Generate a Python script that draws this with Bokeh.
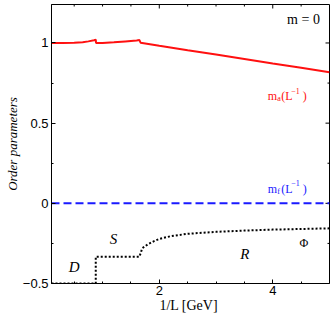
from bokeh.plotting import figure
from bokeh.models import LinearAxis, FixedTicker, Range1d
from bokeh.core.properties import value
from bokeh.embed import file_html
from bokeh.resources import INLINE

# ---- data ----
ma_x = [0.1, 0.3, 0.5, 0.65, 0.75, 0.85, 0.88, 0.885, 1.0, 1.2, 1.4, 1.6, 1.65, 1.67,
        2.0, 2.5, 3.0, 3.5, 4.0, 4.5, 5.0]
ma_y = [1.0, 1.0, 1.001, 1.005, 1.01, 1.017, 1.021, 1.0, 1.0, 1.004, 1.01, 1.016, 1.018, 1.002,
        0.983, 0.955, 0.928, 0.900, 0.872, 0.845, 0.817]

mf_x = [0.1, 5.0]
mf_y = [0.0, 0.0]

phi_x = [0.1, 0.88, 0.88, 1.65, 1.7, 1.8, 1.9, 2.0, 2.2, 2.5, 3.0, 3.5, 4.0, 4.5, 5.0]
phi_y = [-0.5, -0.5, -0.333, -0.333, -0.28, -0.255, -0.237, -0.222, -0.205, -0.19,
         -0.178, -0.17, -0.164, -0.16, -0.156]

x_major = [2, 4]
x_minor = [0.5, 1, 1.5, 2.5, 3, 3.5, 4.5]
y_major = [-0.5, 0, 0.5, 1]
y_minor = [-0.25, 0.25, 0.75]
y_labels = {-0.5: "\u22120.5", 0: "0", 0.5: "0.5", 1: "1"}

SERIF = "Liberation Serif"
SANS = "Liberation Sans"
X0, X1 = 0.1, 5.0
Y0, Y1 = -0.5, 1.24
W, H = 330, 315
ML, MR, MT = 51, 1, 4

p = figure(width=W, height=H, output_backend="svg", toolbar_location=None,
           x_range=Range1d(X0, X1), y_range=Range1d(Y0, Y1),
           x_axis_type=None, y_axis_type=None,
           min_border_left=ML, min_border_right=MR, min_border_top=MT, min_border_bottom=30)
p.xgrid.grid_line_color = None
p.ygrid.grid_line_color = None
p.outline_line_color = "#000000"
p.outline_line_width = 1
p.background_fill_color = "white"
p.border_fill_color = "white"

xt = FixedTicker(ticks=x_major, minor_ticks=x_minor)
yt = FixedTicker(ticks=y_major, minor_ticks=y_minor)

def style(ax):
    ax.axis_line_color = "#000000"
    ax.axis_line_width = 1
    ax.major_tick_in = 4
    ax.major_tick_out = 0
    ax.minor_tick_in = 2
    ax.minor_tick_out = 0
    ax.major_tick_line_color = "#000000"
    ax.minor_tick_line_color = "#000000"
    ax.major_label_text_font = SANS
    ax.major_label_text_font_size = "13px"
    ax.major_label_text_color = "#000000"
    ax.axis_label_text_color = "#000000"

xb = LinearAxis(ticker=xt, axis_label="1/L  [GeV]")
style(xb)
xb.major_label_standoff = 2
xb.axis_label_text_font = SERIF
xb.axis_label_text_font_style = "normal"
xb.axis_label_text_font_size = "14px"
xb.axis_label_standoff = 0
p.add_layout(xb, "below")

yl = LinearAxis(ticker=yt, axis_label="Order parameters", major_label_overrides=y_labels)
style(yl)
yl.major_label_standoff = 3
yl.axis_label_text_font = SERIF
yl.axis_label_text_font_style = "italic"
yl.axis_label_text_font_size = "13px"
yl.axis_label_standoff = 0
p.add_layout(yl, "left")

# ---- frame geometry helpers ----
fw = W - ML - MR
fh = 278.0
ux = (X1 - X0) / fw   # data units per pixel, x
uy = (Y1 - Y0) / fh   # data units per pixel, y

# ---- ticks on the top and right frame edges (derived from the tick lists) ----
tx = x_major + x_minor
tl = [4] * len(x_major) + [2] * len(x_minor)
p.segment(x0=tx, y0=[Y1] * len(tx), x1=tx, y1=[Y1 - l * uy for l in tl],
          line_color="#000000", line_width=1)
ty = y_major + y_minor
tly = [4] * len(y_major) + [2] * len(y_minor)
p.segment(x0=[X1] * len(ty), y0=ty, x1=[X1 - l * ux for l in tly], y1=ty,
          line_color="#000000", line_width=1)

# ---- curves ----
p.line(ma_x, ma_y, line_color="#ff1010", line_width=2)
p.line(mf_x, mf_y, line_color="#1a1aff", line_width=2, line_dash="8 4")
p.line(phi_x, phi_y, line_color="#000000", line_width=2, line_dash="2 2")

# ---- annotations ----
def txt(x, y, s, color="#000000", size="12px", style="normal", align="left",
        baseline="alphabetic", dx=0, dy=0):
    p.text(x=[x], y=[y], text=[s], text_color=color, text_font=value(SERIF),
           text_font_size=size, text_font_style=style, text_align=align,
           text_baseline=baseline, x_offset=dx, y_offset=dy)

txt(4.542, 1.146, "m = 0", size="14px", align="center", baseline="middle")

def mlabel(x, y, sub, color):
    txt(x, y, "m", color=color, size="12px")
    txt(x, y, sub, color=color, size="8px", dx=9.5, dy=2.5)
    txt(x, y, "(L", color=color, size="12px", dx=13.5)
    txt(x, y, "\u22121", color=color, size="8px", dx=23.5, dy=-5.5)
    txt(x, y, ")", color=color, size="12px", dx=35)

mlabel(3.913, 0.667, "a", "#ff1010")
mlabel(3.913, 0.092, "f", "#1a1aff")

txt(1.193, -0.221, "S", size="15px", style="italic", align="center", baseline="middle")
txt(0.50, -0.394, "D", size="15px", style="italic", align="center", baseline="middle")
txt(3.506, -0.316, "R", size="15px", style="italic", align="center", baseline="middle")
txt(4.548, -0.246, "\u03a6", size="12px", align="center", baseline="middle")

open("out.html", "w").write(file_html(p, INLINE))
